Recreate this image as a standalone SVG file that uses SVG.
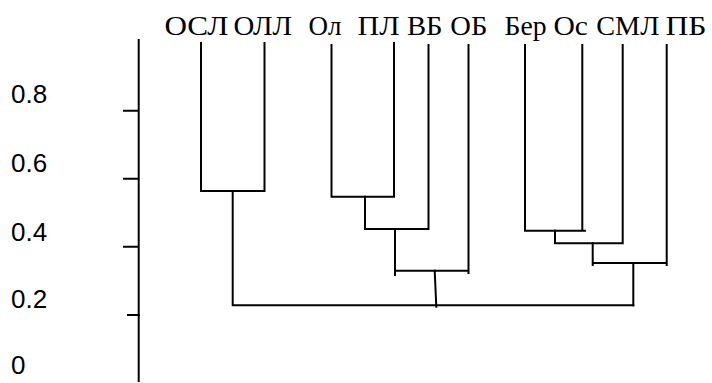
<svg xmlns="http://www.w3.org/2000/svg" width="712" height="383" viewBox="0 0 712 383">
<style>
.ln{stroke:#000;stroke-width:2;fill:none;stroke-linecap:square}
.ax{font-family:"Liberation Sans",Arial,sans-serif;font-size:26px;fill:#000}
.lb{font-family:"Liberation Serif","Times New Roman",serif;font-size:28px;fill:#000}
</style>
<rect width="712" height="383" fill="#fff"/>
<g id="axis">
<path class="ln" d="M138.7,40V381M124,110.7H138M124,178.7H138M124,246.7H138M128,315H139"/>
<text class="ax" x="11" y="103">0.8</text>
<text class="ax" x="11" y="172">0.6</text>
<text class="ax" x="11" y="241">0.4</text>
<text class="ax" x="11" y="308">0.2</text>
<text class="ax" x="11" y="374">0</text>
</g>
<g id="labels">
<text class="lb" x="164.5" y="35" textLength="64" lengthAdjust="spacingAndGlyphs">ОСЛ</text>
<text class="lb" x="233.5" y="35" textLength="58.5" lengthAdjust="spacingAndGlyphs">ОЛЛ</text>
<text class="lb" x="308.5" y="35" textLength="33" lengthAdjust="spacingAndGlyphs">Ол</text>
<text class="lb" x="357.5" y="35" textLength="42" lengthAdjust="spacingAndGlyphs">ПЛ</text>
<text class="lb" x="407" y="35" textLength="35.5" lengthAdjust="spacingAndGlyphs">ВБ</text>
<text class="lb" x="450.3" y="35" textLength="37" lengthAdjust="spacingAndGlyphs">ОБ</text>
<text class="lb" x="504.5" y="35" textLength="42" lengthAdjust="spacingAndGlyphs">Бер</text>
<text class="lb" x="553.5" y="35" textLength="34.5" lengthAdjust="spacingAndGlyphs">Ос</text>
<text class="lb" x="596.3" y="35" textLength="63" lengthAdjust="spacingAndGlyphs">СМЛ</text>
<text class="lb" x="665.5" y="35" textLength="41" lengthAdjust="spacingAndGlyphs">ПБ</text>
</g>
<g id="connectors">
<path class="ln" d="M201,43V191H264.5V43"/>
<path class="ln" d="M232.7,191V305.3H633.3"/>
<path class="ln" d="M331.5,45V196.7H394V43"/>
<path class="ln" d="M365,196.7V229H428.5V45"/>
<path class="ln" d="M395,229V275M395,270.7H468.5V45M468.5,270.7V273"/>
<path class="ln" d="M434.7,270.7L436.3,306.7"/>
<path class="ln" d="M525,45V230.7H585M582.3,45V230.7"/>
<path class="ln" d="M555,230.7V243.3H622.7V45"/>
<path class="ln" d="M592.7,243.3V265M592.7,263H666.7V45M666.7,263V265"/>
<path class="ln" d="M633.3,263V305.3"/>
</g>
</svg>
